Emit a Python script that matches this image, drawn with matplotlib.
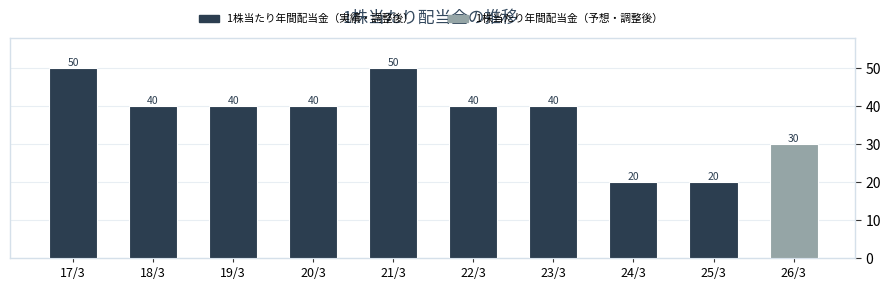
import matplotlib
matplotlib.use("Agg")
import matplotlib.pyplot as plt
from matplotlib.patches import Patch

plt.rcParams['font.family'] = ['Noto Sans CJK JP', 'DejaVu Sans']

categories = ["17/3", "18/3", "19/3", "20/3", "21/3", "22/3", "23/3", "24/3", "25/3", "26/3"]
values = [50, 40, 40, 40, 50, 40, 40, 20, 20, 30]
is_forecast = [False] * 9 + [True]
label_actual = "1株当たり年間配当金（実績・調整後）"
label_forecast = "1株当たり年間配当金（予想・調整後）"
title = "1株当たり配当金の推移"

c_actual = "#2c3e50"
c_forecast = "#95a5a6"

fig = plt.figure(figsize=(8.89, 2.90), dpi=100)
ax = fig.add_axes([0.011, 0.110, 0.951, 0.759])

x = list(range(len(categories)))
colors = [c_forecast if f else c_actual for f in is_forecast]
bars = ax.bar(x, values, width=0.6, color=colors, edgecolor="white", linewidth=0.8, zorder=3)
for xi, v in zip(x, values):
    ax.text(xi, v, str(v), ha="center", va="bottom", fontsize=7.5, color=c_actual, zorder=4)

ax.set_xticks(x)
ax.set_xticklabels(categories, fontsize=9)
ax.set_xlim(-0.79, 9.77)
ax.set_ylim(0, 58)
ax.set_yticks([0, 10, 20, 30, 40, 50])
ax.yaxis.tick_right()
ax.tick_params(axis='y', labelsize=10, length=4, color="#333333")
ax.tick_params(axis='x', length=3, color="#333333")
ax.grid(axis='y', color="#e8eef3", linewidth=0.8, zorder=0)
for s in ax.spines.values():
    s.set_color("#d5e0ea")
    s.set_linewidth(1.0)

handles = [Patch(color=c_actual, label=label_actual), Patch(color=c_forecast, label=label_forecast)]
fig.legend(handles=handles, loc="center", bbox_to_anchor=(0.485, 0.935), ncol=2, frameon=False,
           fontsize=7.7, handlelength=1.8, handleheight=0.7, columnspacing=3.2)
fig.text(0.484, 0.935, title, ha="center", va="center", fontsize=12, color="#34495e")

fig.savefig("out.png", dpi=100)
